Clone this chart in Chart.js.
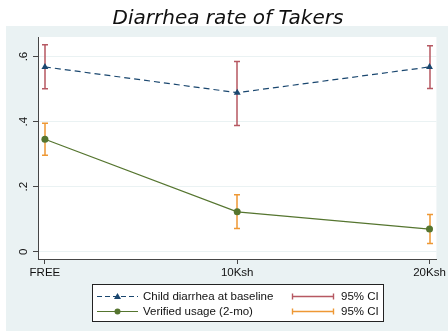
<!DOCTYPE html>
<html>
<head>
<meta charset="utf-8">
<script src="https://cdn.jsdelivr.net/npm/chart.js@4/dist/chart.umd.min.js"></script>
<style>
  html, body { margin: 0; padding: 0; background: #ffffff; }
  #wrap { width: 448px; height: 331px; position: relative; }
</style>
</head>
<body>
<div id="wrap"><canvas id="c" width="448" height="331"></canvas></div>
<script>
// Price groups along the x axis
const categories = ['FREE', '10Ksh', '20Ksh'];

// Child diarrhea at baseline: mean and 95% CI bounds
const diarrheaMean = [0.568, 0.489, 0.568];
const diarrheaLow  = [0.501, 0.388, 0.502];
const diarrheaHigh = [0.636, 0.585, 0.633];

// Verified usage (2-mo): mean and 95% CI bounds
const usageMean = [0.346, 0.123, 0.070];
const usageLow  = [0.297, 0.072, 0.026];
const usageHigh = [0.395, 0.175, 0.115];

// Y axis ticks and their labels
const yTicks = [0, 0.2, 0.4, 0.6];
const yTickLabels = ['0', '.2', '.4', '.6'];

const seriesNames = ['Child diarrhea at baseline', 'Verified usage (2-mo)'];
const ciName = '95% CI';

const NAVY = 'rgb(26,71,111)';
const GREEN = 'rgb(85,117,47)';
const CI_RED = 'rgb(182,88,98)';
const CI_ORANGE = 'rgb(238,152,52)';
const BG = 'rgb(234,242,243)';
const AXIS = 'rgb(70,70,70)';
const FONT = '"Liberation Sans", Arial, sans-serif';
const TEXT_SIZE = 11.5;

const toPoints = vals => vals.map((v, i) => ({ x: i, y: v }));

// Page background: white strip for the title, light panel, white plot region
const backgroundPlugin = {
  id: 'panelBackground',
  beforeDraw(chart) {
    const { ctx, chartArea: a } = chart;
    ctx.save();
    ctx.fillStyle = '#ffffff';
    ctx.fillRect(0, 0, chart.width, chart.height);
    ctx.fillStyle = BG;
    ctx.fillRect(6, 26, chart.width - 6, chart.height - 26);
    ctx.fillStyle = '#ffffff';
    ctx.fillRect(a.left, a.top, a.right - a.left, a.bottom - a.top);
    ctx.restore();
  },
  afterDraw(chart) {
    const ctx = chart.ctx;
    ctx.save();
    ctx.fillStyle = '#111';
    ctx.font = 'italic 20px "DejaVu Sans", sans-serif';
    ctx.textAlign = 'center';
    ctx.textBaseline = 'alphabetic';
    ctx.fillText('Diarrhea rate of Takers', 228, 24);
    ctx.restore();
  }
};

// Capped 95% CI bars, drawn beneath the markers
const ciSets = [
  { low: diarrheaLow, high: diarrheaHigh, color: CI_RED },
  { low: usageLow, high: usageHigh, color: CI_ORANGE }
];
const errorBarPlugin = {
  id: 'ciBars',
  beforeDatasetsDraw(chart) {
    const { ctx, scales: { x, y } } = chart;
    ctx.save();
    ctx.lineWidth = 1.5;
    ciSets.forEach(set => {
      ctx.strokeStyle = set.color;
      set.low.forEach((lo, i) => {
        const px = Math.round(x.getPixelForValue(i));
        const yl = y.getPixelForValue(lo);
        const yh = y.getPixelForValue(set.high[i]);
        ctx.beginPath();
        ctx.moveTo(px, yl); ctx.lineTo(px, yh);
        ctx.moveTo(px - 3, yl); ctx.lineTo(px + 3, yl);
        ctx.moveTo(px - 3, yh); ctx.lineTo(px + 3, yh);
        ctx.stroke();
      });
    });
    ctx.restore();
  }
};

// Rotated y tick labels, reading bottom to top
const yLabelPlugin = {
  id: 'yLabels',
  afterDraw(chart) {
    const { ctx, scales: { y } } = chart;
    ctx.save();
    ctx.fillStyle = '#111';
    ctx.font = TEXT_SIZE + 'px ' + FONT;
    ctx.textAlign = 'center';
    ctx.textBaseline = 'middle';
    yTicks.forEach((v, i) => {
      const py = y.getPixelForValue(v);
      ctx.save();
      ctx.translate(24, py);
      ctx.rotate(-Math.PI / 2);
      ctx.fillText(yTickLabels[i], 0, 0);
      ctx.restore();
    });
    ctx.restore();
  }
};

// Two-column legend box below the plot
const legendPlugin = {
  id: 'boxLegend',
  afterDraw(chart) {
    const ctx = chart.ctx;
    const box = { x: 92.5, y: 284.5, w: 291, h: 37 };
    const rows = [296, 311];
    ctx.save();
    ctx.fillStyle = '#ffffff';
    ctx.fillRect(box.x, box.y, box.w, box.h);
    ctx.strokeStyle = '#222';
    ctx.lineWidth = 1;
    ctx.strokeRect(box.x, box.y, box.w, box.h);

    ctx.font = TEXT_SIZE + 'px ' + FONT;
    ctx.fillStyle = '#111';
    ctx.textBaseline = 'middle';
    ctx.textAlign = 'left';

    // Series samples
    const lineStyles = [
      { color: NAVY, dash: [5, 3], marker: 'triangle' },
      { color: GREEN, dash: [], marker: 'circle' }
    ];
    lineStyles.forEach((s, r) => {
      const yy = rows[r] + 0.5;
      ctx.strokeStyle = s.color;
      ctx.lineWidth = 1.2;
      ctx.setLineDash(s.dash);
      ctx.beginPath();
      ctx.moveTo(97, yy); ctx.lineTo(138, yy);
      ctx.stroke();
      ctx.setLineDash([]);
      ctx.fillStyle = s.color;
      ctx.beginPath();
      if (s.marker === 'triangle') {
        ctx.moveTo(117.5, yy - 3.5); ctx.lineTo(121, yy + 2.5); ctx.lineTo(114, yy + 2.5);
        ctx.closePath();
      } else {
        ctx.arc(117.5, yy, 3, 0, Math.PI * 2);
      }
      ctx.fill();
      ctx.fillStyle = '#111';
      ctx.fillText(seriesNames[r], 143, rows[r] + 1);
    });

    // CI samples
    ciSets.forEach((set, r) => {
      const yy = rows[r] + 0.5;
      ctx.strokeStyle = set.color;
      ctx.lineWidth = 1.4;
      ctx.beginPath();
      ctx.moveTo(292, yy); ctx.lineTo(334, yy);
      ctx.moveTo(292.5, yy - 3); ctx.lineTo(292.5, yy + 3);
      ctx.moveTo(333.5, yy - 3); ctx.lineTo(333.5, yy + 3);
      ctx.stroke();
      ctx.fillStyle = '#111';
      ctx.fillText(ciName, 341, rows[r] + 1);
    });
    ctx.restore();
  }
};

new Chart(document.getElementById('c'), {
  type: 'line',
  data: {
    datasets: [
      {
        label: seriesNames[0],
        data: toPoints(diarrheaMean),
        borderColor: NAVY,
        backgroundColor: NAVY,
        borderWidth: 1.2,
        borderDash: [6, 4],
        pointStyle: 'triangle',
        pointRadius: 4,
        pointBorderWidth: 0,
        pointBackgroundColor: NAVY,
        tension: 0
      },
      {
        label: seriesNames[1],
        data: toPoints(usageMean),
        borderColor: GREEN,
        backgroundColor: GREEN,
        borderWidth: 1.2,
        pointStyle: 'circle',
        pointRadius: 3.5,
        pointBorderWidth: 0,
        pointBackgroundColor: GREEN,
        tension: 0
      }
    ]
  },
  options: {
    responsive: false,
    animation: false,
    devicePixelRatio: 1,
    layout: { padding: { top: 37, right: 11, bottom: 0, left: 0 } },
    plugins: {
      legend: { display: false },
      title: { display: false },
      tooltip: { enabled: false }
    },
    scales: {
      x: {
        type: 'linear',
        min: -0.036,
        max: 2.036,
        afterBuildTicks(scale) {
          scale.ticks = categories.map((_, i) => ({ value: i }));
        },
        afterFit(scale) { scale.height = 72; },
        ticks: {
          callback: v => categories[v],
          color: '#111',
          font: { family: FONT, size: TEXT_SIZE },
          padding: 2,
          maxRotation: 0,
          autoSkip: false
        },
        grid: {
          drawOnChartArea: false,
          drawTicks: true,
          tickLength: 5,
          tickColor: AXIS,
          tickWidth: 1
        },
        border: { display: true, color: AXIS, width: 1 }
      },
      y: {
        type: 'linear',
        min: -0.022,
        max: 0.66,
        afterBuildTicks(scale) {
          scale.ticks = yTicks.map(v => ({ value: v }));
        },
        afterFit(scale) { scale.width = 38; },
        ticks: { display: false },
        grid: {
          drawOnChartArea: true,
          color: BG,
          lineWidth: 1,
          drawTicks: true,
          tickLength: 5,
          tickColor: AXIS,
          tickWidth: 1
        },
        border: { display: true, color: AXIS, width: 1 }
      }
    }
  },
  plugins: [backgroundPlugin, errorBarPlugin, yLabelPlugin, legendPlugin]
});
</script>
</body>
</html>
